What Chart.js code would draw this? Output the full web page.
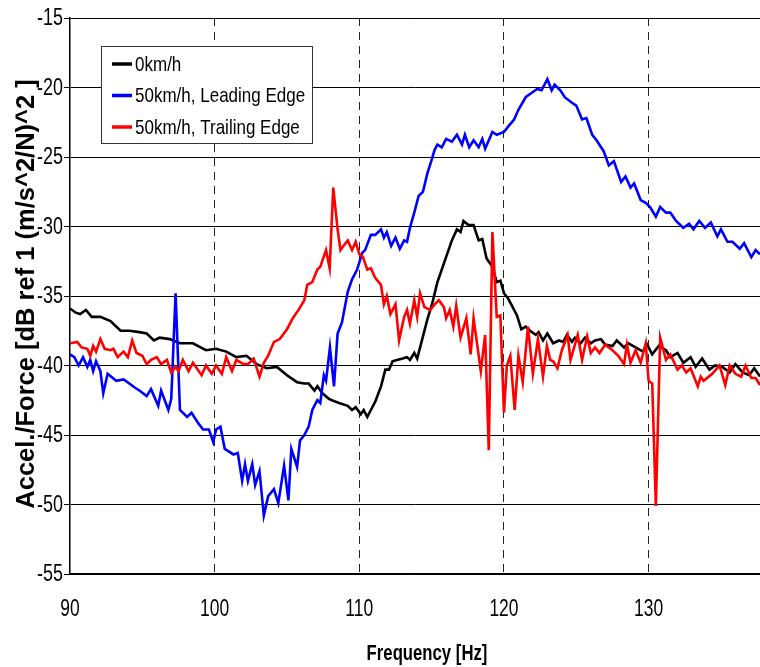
<!DOCTYPE html>
<html><head><meta charset="utf-8">
<script src="https://cdn.jsdelivr.net/npm/chart.js@4.4.1/dist/chart.umd.min.js"></script>
<style>html,body{margin:0;padding:0;background:#fff}#wrap{width:760px;height:667px;position:relative}</style>
</head><body><div id="wrap"><canvas id="c" width="760" height="667"></canvas></div>
<script>
const seriesLabels = ['0km/h', '50km/h, Leading Edge', '50km/h, Trailing Edge'];
const seriesColors = ['#000000', '#0000ff', '#ff0000'];
const xTicks = [90, 100, 110, 120, 130];
const yTicks = [-15, -20, -25, -30, -35, -40, -45, -50, -55];
const xTitle = 'Frequency [Hz]';
const yTitle = 'Accel./Force [dB ref 1 (m/s^2/N)^2 ]';

const freq0 = [90.0,90.4,90.7,91.1,91.5,92.1,92.8,93.1,93.5,94.1,94.8,95.3,95.8,96.2,96.9,97.6,98.5,99.4,100.1,100.8,101.5,102.2,102.9,103.6,104.3,105.0,105.7,106.2,106.5,106.9,107.1,107.45,107.9,108.1,108.6,109.2,109.5,109.75,110.1,110.3,110.55,110.8,111.1,111.5,111.8,112.05,112.3,112.6,113.0,113.3,113.5,113.8,114.0,114.35,114.7,115.05,115.4,115.7,116.1,116.4,116.75,117.0,117.2,117.55,117.9,118.25,118.5,118.8,119.2,119.5,119.75,120.0,120.3,120.7,120.9,121.2,121.5,121.8,122.2,122.4,122.7,123.0,123.4,123.8,124.1,124.35,124.7,124.9,125.3,125.6,126.0,126.3,126.7,127.0,127.5,127.8,128.3,128.6,129.1,129.6,129.9,130.25,130.7,131.2,131.5,132.0,132.4,132.9,133.25,133.7,134.2,134.6,135.1,135.6,136.0,136.5,136.95,137.3,137.7];
const val0 = [-35.9,-36.2,-36.3,-36.0,-36.5,-36.5,-36.8,-37.1,-37.5,-37.5,-37.6,-37.7,-38.2,-38.0,-38.1,-38.4,-38.4,-38.9,-38.8,-39.0,-39.4,-39.3,-39.9,-40.2,-40.1,-40.7,-41.2,-41.3,-41.3,-41.8,-41.5,-42.0,-42.4,-42.5,-42.7,-42.9,-43.2,-43.0,-43.5,-43.2,-43.7,-43.2,-42.6,-41.5,-40.3,-40.3,-39.7,-39.6,-39.5,-39.4,-39.6,-39.1,-39.5,-38.1,-36.7,-35.5,-34.0,-33.1,-31.9,-31.0,-30.2,-30.4,-29.6,-29.9,-29.9,-31.0,-30.9,-32.3,-32.9,-34.0,-33.9,-34.8,-35.2,-36.0,-36.4,-37.4,-37.2,-37.5,-37.8,-37.6,-38.2,-37.7,-38.4,-38.2,-38.3,-37.8,-38.3,-38.0,-38.4,-38.0,-38.4,-38.2,-38.1,-38.5,-38.6,-38.2,-38.7,-38.4,-38.7,-39.0,-38.5,-39.2,-38.6,-38.9,-39.4,-39.1,-39.8,-39.4,-40.1,-39.5,-40.3,-40.0,-40.1,-40.5,-39.9,-40.5,-40.7,-40.2,-40.8];

const freqLead = [90.0,90.3,90.6,90.9,91.2,91.4,91.6,91.8,92.1,92.3,92.6,93.2,93.7,94.1,94.5,94.8,95.3,95.6,96.1,96.3,96.8,97.0,97.3,97.6,98.1,98.4,98.9,99.2,99.6,99.9,100.1,100.4,100.7,101.3,101.6,101.9,102.1,102.3,102.6,102.8,103.1,103.4,103.7,104.1,104.4,104.8,105.1,105.3,105.7,105.9,106.2,106.5,106.75,107.1,107.3,107.55,107.7,107.97,108.25,108.5,108.8,109.2,109.5,109.85,110.2,110.4,110.8,111.1,111.5,111.7,111.9,112.2,112.5,112.8,113.1,113.3,113.5,113.8,114.1,114.4,114.7,115.0,115.2,115.4,115.7,116.0,116.4,116.75,117.1,117.3,117.6,117.9,118.25,118.5,118.7,119.2,119.5,120.0,120.3,120.7,121.0,121.5,121.9,122.3,122.6,123.0,123.3,123.5,123.9,124.2,124.7,125.0,125.4,125.7,126.1,126.4,126.9,127.25,127.6,128.1,128.4,128.75,129.0,129.45,129.8,130.1,130.5,130.8,131.2,131.5,131.9,132.4,132.8,133.1,133.5,133.9,134.3,134.75,135.0,135.45,135.8,136.3,136.6,137.1,137.4,137.7];
const valLead = [-39.2,-39.4,-40.0,-39.4,-40.1,-39.6,-40.4,-39.7,-40.4,-42.0,-40.6,-41.1,-41.0,-41.3,-41.6,-41.8,-42.2,-41.7,-42.9,-41.8,-43.2,-42.4,-34.8,-43.2,-43.7,-43.4,-44.2,-44.6,-44.6,-45.5,-44.6,-44.4,-46.0,-46.4,-46.3,-48.3,-47.1,-48.3,-47.1,-48.6,-47.6,-50.8,-49.4,-48.9,-49.9,-47.2,-49.7,-46.0,-47.3,-45.4,-45.0,-44.4,-43.2,-42.5,-42.7,-40.7,-41.1,-38.7,-41.5,-37.7,-36.9,-34.7,-33.8,-33.1,-31.9,-31.7,-30.6,-30.6,-30.2,-30.8,-30.4,-31.4,-30.8,-31.6,-31.0,-31.1,-30.1,-29.0,-27.8,-27.5,-26.2,-25.2,-24.5,-24.1,-24.3,-23.7,-23.9,-23.4,-24.1,-23.4,-24.3,-23.8,-24.3,-23.7,-24.4,-23.2,-23.4,-23.2,-22.8,-22.3,-21.6,-20.7,-20.4,-20.1,-20.2,-19.4,-20.2,-19.8,-20.2,-20.7,-21.1,-21.3,-22.3,-22.2,-23.4,-23.8,-24.6,-25.6,-25.3,-26.8,-26.4,-27.2,-26.9,-28.1,-28.3,-28.6,-29.3,-28.6,-29.0,-29.0,-29.6,-30.1,-29.8,-30.2,-29.6,-30.1,-29.7,-30.7,-30.2,-31.1,-31.1,-31.6,-31.2,-32.2,-31.7,-32.0];

const freqTrail = [90.0,90.5,90.8,91.2,91.4,91.6,91.8,92.1,92.4,92.8,93.0,93.3,93.7,94.0,94.3,94.6,95.0,95.3,95.6,96.0,96.3,96.7,97.0,97.3,97.5,97.8,98.2,98.5,99.1,99.4,99.8,100.1,100.5,100.8,101.2,101.5,102.0,102.3,102.7,103.1,103.4,103.7,104.1,104.5,105.0,105.4,105.8,106.2,106.4,106.75,107.1,107.3,107.7,107.95,108.2,108.5,108.7,108.9,109.2,109.5,109.75,110.0,110.25,110.55,110.8,111.1,111.5,111.7,111.9,112.15,112.5,112.75,113.1,113.3,113.5,113.8,114.0,114.2,114.5,114.9,115.3,115.5,115.85,116.0,116.25,116.5,116.7,117.0,117.4,117.7,117.9,118.4,118.7,118.95,119.2,119.5,119.75,120.0,120.2,120.44,120.74,121.0,121.3,121.66,122.0,122.35,122.7,122.97,123.2,123.4,123.7,124.0,124.4,124.6,125.1,125.4,125.75,126.0,126.3,126.6,127.0,127.5,127.9,128.3,128.5,128.75,129.1,129.45,129.8,130.0,130.25,130.5,130.8,131.2,131.5,132.0,132.3,132.6,132.9,133.4,133.6,133.8,134.4,134.9,135.3,135.6,136.0,136.4,136.7,137.1,137.4,137.7];
const valTrail = [-38.4,-38.3,-38.7,-38.8,-39.3,-38.6,-39.0,-38.1,-38.8,-38.9,-38.8,-39.4,-39.0,-39.4,-38.2,-39.1,-39.3,-39.9,-39.6,-39.4,-39.9,-39.6,-40.5,-40.1,-40.4,-39.6,-40.4,-39.8,-40.7,-40.0,-40.6,-40.0,-40.6,-39.4,-40.4,-39.6,-39.9,-39.9,-39.5,-40.8,-39.8,-39.3,-38.3,-38.1,-37.4,-36.6,-36.0,-35.3,-34.2,-34.0,-33.1,-32.9,-31.7,-33.0,-27.2,-30.2,-31.7,-31.4,-31.0,-31.7,-31.1,-32.0,-32.2,-33.1,-33.0,-33.7,-34.2,-35.6,-35.0,-36.3,-35.6,-38.2,-36.5,-36.0,-37.0,-35.3,-36.5,-34.8,-35.8,-36.0,-35.5,-35.3,-35.8,-36.6,-36.0,-37.2,-35.7,-38.0,-36.6,-39.2,-36.6,-40.4,-37.8,-46.1,-30.4,-36.5,-36.4,-43.4,-40.0,-39.3,-43.2,-39.3,-41.2,-37.2,-40.6,-38.1,-40.8,-38.6,-39.6,-39.7,-40.2,-38.9,-37.8,-39.6,-37.8,-39.6,-37.9,-39.1,-38.7,-39.1,-38.5,-38.9,-39.3,-39.9,-38.5,-39.8,-38.9,-39.8,-38.4,-41.1,-41.3,-50.1,-38.0,-39.6,-39.2,-40.3,-40.0,-40.5,-40.2,-41.5,-40.8,-41.1,-40.6,-40.0,-41.4,-40.0,-40.6,-40.8,-40.0,-40.9,-40.9,-41.4];

const SANS = '"Liberation Sans", Arial, sans-serif';

function pts(fs, vs) { return fs.map((f, i) => ({ x: f, y: vs[i] })); }
const seriesData = [pts(freq0, val0), pts(freqLead, valLead), pts(freqTrail, valTrail)];

function squeezedText(ctx, text, x, y, font, sx, align) {
  ctx.save();
  ctx.translate(x, y);
  ctx.scale(sx, 1);
  ctx.font = font;
  ctx.textAlign = align;
  ctx.textBaseline = 'middle';
  ctx.fillStyle = '#000';
  ctx.fillText(text, 0, 0);
  ctx.restore();
}

const decor = {
  id: 'decor',
  beforeDraw(chart) {
    const ctx = chart.ctx;
    ctx.save();
    ctx.fillStyle = '#fff';
    ctx.fillRect(0, 0, chart.width, chart.height);
    ctx.restore();
  },
  afterDraw(chart) {
    const ctx = chart.ctx;
    const area = chart.chartArea;
    const xs = chart.scales.x, ys = chart.scales.y;
    // tick labels
    xTicks.forEach(v => squeezedText(ctx, String(v), xs.getPixelForValue(v), 610, '23px ' + SANS, 0.76, 'center'));
    yTicks.forEach(v => squeezedText(ctx, String(v), 63, ys.getPixelForValue(v) + 1, '23px ' + SANS, 0.78, 'right'));
    // legend box
    ctx.save();
    const bx = 101.5, by = 46.5, bw = 211, bh = 97;
    ctx.fillStyle = '#fff';
    ctx.fillRect(bx, by, bw, bh);
    ctx.strokeStyle = '#333';
    ctx.lineWidth = 1;
    ctx.strokeRect(bx, by, bw, bh);
    chart.data.datasets.forEach((ds, i) => {
      const y = 64 + i * 31.5;
      ctx.strokeStyle = ds.borderColor;
      ctx.lineWidth = 3.5;
      ctx.beginPath();
      ctx.moveTo(112, y);
      ctx.lineTo(132, y);
      ctx.stroke();
      squeezedText(ctx, ds.label, 135, y + 1, '21px ' + SANS, 0.81, 'left');
    });
    ctx.restore();
    // x title
    squeezedText(ctx, xTitle, 427, 654, 'bold 22px ' + SANS, 0.76, 'center');
    // y title
    ctx.save();
    ctx.translate(27, (area.top + area.bottom) / 2 - 2);
    ctx.rotate(-Math.PI / 2);
    ctx.font = 'bold 25.5px ' + SANS;
    ctx.textAlign = 'center';
    ctx.textBaseline = 'middle';
    ctx.fillStyle = '#000';
    ctx.fillText(yTitle, 0, 0);
    ctx.restore();
  }
};

new Chart(document.getElementById('c'), {
  type: 'line',
  data: {
    datasets: seriesLabels.map((lab, i) => ({
      label: lab,
      data: seriesData[i],
      borderColor: seriesColors[i],
      backgroundColor: seriesColors[i],
      borderWidth: 2.6,
      pointRadius: 0,
      tension: 0,
      fill: false,
      order: 3 - i
    }))
  },
  options: {
    responsive: false,
    animation: false,
    devicePixelRatio: 1,
    layout: { padding: { top: 18, right: 0, left: 0, bottom: 0 } },
    plugins: { legend: { display: false }, tooltip: { enabled: false } },
    scales: {
      x: {
        type: 'linear',
        min: 90,
        max: 137.7,
        afterBuildTicks: s => { s.ticks = xTicks.map(v => ({ value: v })); },
        afterFit: s => { s.height = 93; },
        grid: {
          color: c => (c.tick && c.tick.value === xTicks[0]) ? 'rgba(0,0,0,0)' : '#222',
          lineWidth: 1, drawTicks: false
        },
        border: { display: true, color: '#000', width: 1.5, dash: [8, 6] },
        ticks: { display: false },
        title: { display: false }
      },
      y: {
        type: 'linear',
        min: -55,
        max: -15,
        afterBuildTicks: s => { s.ticks = yTicks.map(v => ({ value: v })); },
        afterFit: s => { s.width = 70; },
        grid: { color: '#000', lineWidth: 1, drawTicks: true, tickLength: 6 },
        border: { display: true, color: '#000', width: 1.5 },
        ticks: { display: false },
        title: { display: false }
      }
    }
  },
  plugins: [decor]
});
</script>
</body></html>
